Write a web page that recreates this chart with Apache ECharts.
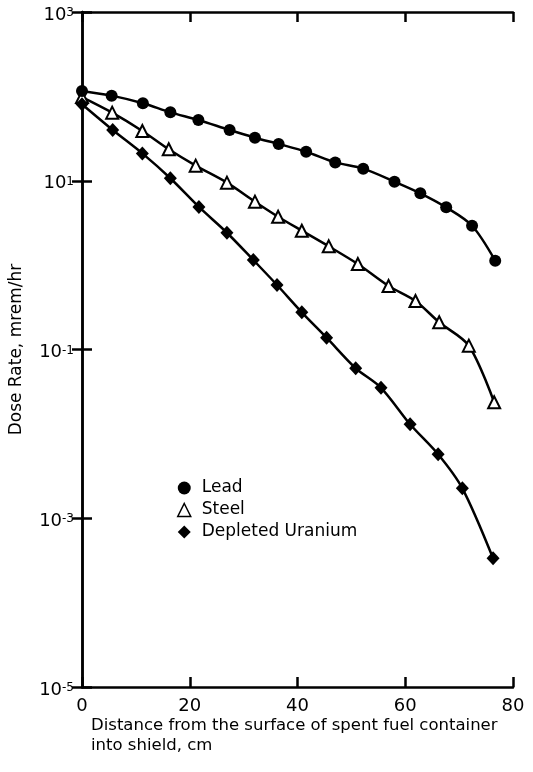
<!DOCTYPE html>
<html>
<head>
<meta charset="utf-8">
<script src="https://cdn.jsdelivr.net/npm/echarts@6/dist/echarts.min.js"></script>
<style>
  html, body { margin: 0; padding: 0; background: #fff; }
  #DoseChart { width: 533px; height: 772px; }
</style>
</head>
<body>
<div id="DoseChart"></div>
<script>
// values (x in cm, dose rate in mrem/hr)
var leadX = [0, 5.5, 11.3, 16.4, 21.6, 27.4, 32.1, 36.5, 41.6, 47.0, 52.2, 58.0, 62.8, 67.6, 72.4, 76.7];
var leadY = [116, 102, 82.8, 64.7, 52.5, 39.9, 32.4, 27.3, 22.1, 16.5, 13.9, 9.75, 7.1, 4.84, 2.93, 1.13];

var steelX = [0, 5.6, 11.2, 16.1, 21.1, 26.9, 32.1, 36.4, 40.8, 45.8, 51.2, 56.9, 61.9, 66.3, 71.8, 76.5];
var steelY = [98, 64.1, 38.9, 23.6, 15.1, 9.5, 5.65, 3.75, 2.56, 1.67, 1.03, 0.566, 0.376, 0.21, 0.111, 0.0237];

var uraniumX = [0, 5.7, 11.2, 16.4, 21.7, 26.9, 31.8, 36.2, 40.8, 45.4, 50.8, 55.5, 60.9, 66.1, 70.6, 76.3];
var uraniumY = [80.5, 39.9, 21.1, 10.7, 4.89, 2.42, 1.15, 0.581, 0.276, 0.138, 0.0599, 0.0352, 0.013, 0.00573, 0.00226, 0.000335];

var xTicks = [0, 20, 40, 60, 80];
var yTicks = [1e-5, 1e-3, 1e-1, 1e1, 1e3];

var FONT = "DejaVu Sans";

function pairs(xs, ys) {
  var out = [];
  for (var i = 0; i < xs.length; i++) out.push([xs[i], ys[i]]);
  return out;
}

function powLabel(v) {
  var e = Math.round(Math.log10(v));
  return "{b|10}{s|" + e + "}";
}

var chartDom = document.getElementById("DoseChart");
var myChart = echarts.init(chartDom, null, { renderer: "canvas" });

var axisLine = { show: true, lineStyle: { color: "#000", width: 2.5 } };
var tickStyle = { show: true, inside: true, length: 10, lineStyle: { color: "#000", width: 2.5 } };

var yBase = {
  type: "log",
  logBase: 10,
  min: yTicks[0],
  max: yTicks[yTicks.length - 1],
  axisLine: axisLine,
  splitLine: { show: false },
  minorTick: { show: false },
  axisTick: Object.assign({ customValues: yTicks }, tickStyle)
};

var option = {
  backgroundColor: "#fff",
  animation: false,
  grid: { left: 79, right: 20, top: 12, bottom: 85, show: false },
  legend: {
    orient: "vertical",
    left: 177,
    top: 479,
    padding: 0,
    itemGap: 4,
    itemWidth: 13,
    itemHeight: 13,
    textStyle: { fontFamily: FONT, fontSize: 17, color: "#000", lineHeight: 18, padding: [0, 0, 0, 6] },
    data: [
      { name: "Lead", icon: "circle", itemStyle: { color: "#000" } },
      { name: "Steel", icon: "triangle", itemStyle: { color: "#fff", borderColor: "#000", borderWidth: 1.5 } },
      { name: "Depleted Uranium", icon: "diamond", itemStyle: { color: "#000" } }
    ]
  },
  xAxis: [
    {
      type: "value",
      min: xTicks[0],
      max: xTicks[xTicks.length - 1],
      interval: 20,
      axisLine: axisLine,
      axisTick: tickStyle,
      splitLine: { show: false },
      axisLabel: { fontFamily: FONT, fontSize: 18, color: "#000", margin: 10 }
    },
    {
      type: "value",
      position: "top",
      min: xTicks[0],
      max: xTicks[xTicks.length - 1],
      interval: 20,
      axisLine: axisLine,
      axisTick: tickStyle,
      splitLine: { show: false },
      axisLabel: { show: false }
    }
  ],
  yAxis: [
    Object.assign({}, yBase, {
      name: "Dose Rate, mrem/hr",
      nameLocation: "middle",
      nameGap: 57,
      nameTextStyle: { fontFamily: FONT, fontSize: 17, color: "#000" },
      axisLabel: {
        customValues: yTicks,
        margin: 8,
        formatter: powLabel,
        rich: {
          b: { fontFamily: FONT, fontSize: 18, color: "#000", lineHeight: 20, padding: [6, 0, 0, 0] },
          s: { fontFamily: FONT, fontSize: 12, color: "#000", lineHeight: 12, verticalAlign: "top", padding: [5, 0, 0, 0] }
        }
      }
    }),
    Object.assign({}, yBase, { position: "right", axisLabel: { show: false } })
  ],
  graphic: [
    {
      type: "text",
      left: 91,
      top: 716,
      style: {
        text: "Distance from the surface of spent fuel container\ninto shield, cm",
        font: "16.5px " + FONT,
        fill: "#000",
        lineHeight: 20
      }
    }
  ],
  series: [
    {
      name: "Steel",
      type: "line",
      smooth: 0.3,
      symbol: "triangle",
      symbolSize: 12,
      data: pairs(steelX, steelY),
      lineStyle: { color: "#000", width: 2.5 },
      itemStyle: { color: "#fff", borderColor: "#000", borderWidth: 2 }
    },
    {
      name: "Lead",
      type: "line",
      smooth: 0.3,
      symbol: "circle",
      symbolSize: 12,
      data: pairs(leadX, leadY),
      lineStyle: { color: "#000", width: 2.5 },
      itemStyle: { color: "#000" }
    },
    {
      name: "Depleted Uranium",
      type: "line",
      smooth: 0.3,
      symbol: "diamond",
      symbolSize: [13, 14],
      data: pairs(uraniumX, uraniumY),
      lineStyle: { color: "#000", width: 2.5 },
      itemStyle: { color: "#000" }
    }
  ]
};

option && myChart.setOption(option);
</script>
</body>
</html>
